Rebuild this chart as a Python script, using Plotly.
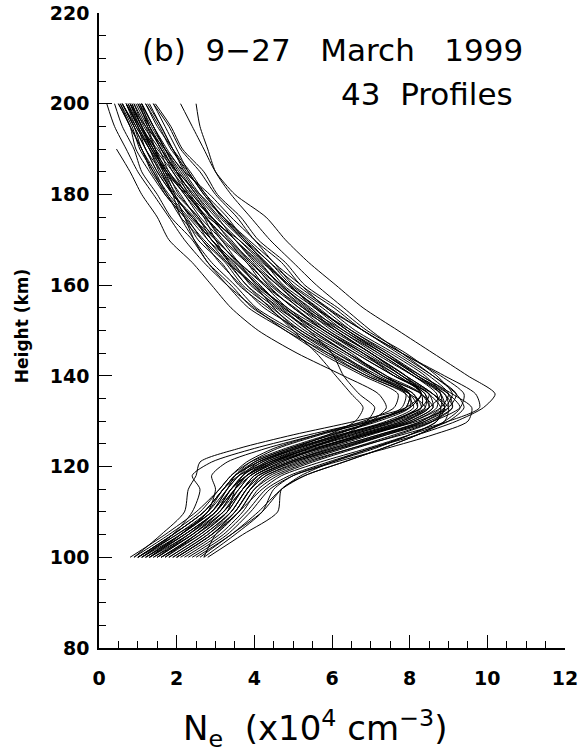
import plotly.graph_objects as go

# Heights (km) at which each electron-density profile is sampled
heights_km = [100, 105, 110, 115, 118, 121, 124, 127, 130, 133, 136, 140,
              145, 150, 155, 160, 165, 170, 175, 180, 185, 190, 195, 200]

# Electron density Ne (x10^4 cm^-3) for each of the 43 profiles
ne_profiles = [
    [1.6, 2.5, 3.2, 3.6, 3.9, 4.6, 5.6, 6.7, 7.9, 8.5, 8.4, 7.7, 6.8, 5.9, 5.0, 4.35, 3.85, 3.2, 2.75, 2.3, 1.8, 1.55, 1.15, 0.9],
    [1.2, 2.2, 3.0, 3.4, 3.7, 4.3, 5.3, 6.5, 7.6, 8.2, 8.0, 7.1, 6.2, 5.2, 4.45, 3.7, 3.25, 2.65, 2.25, 1.75, 1.45, 1.1, 0.9, 0.6],
    [2.0, 2.9, 3.5, 3.9, 4.3, 5.2, 6.3, 7.4, 8.4, 8.9, 8.8, 8.1, 7.2, 6.3, 5.35, 4.7, 4.05, 3.5, 2.9, 2.3, 1.75, 1.35, 1.0, 0.75],
    [1.0, 2.0, 2.8, 3.3, 3.6, 4.0, 4.9, 6.0, 7.2, 8.0, 8.0, 7.0, 6.0, 5.1, 4.5, 4.0, 3.3, 2.7, 2.2, 1.7, 1.3, 0.95, 0.8, 0.5],
    [1.8, 2.7, 3.4, 3.8, 4.2, 5.0, 6.1, 7.3, 8.5, 9.1, 9.0, 8.3, 7.4, 6.4, 5.65, 4.85, 4.3, 3.7, 3.2, 2.7, 2.3, 1.85, 1.55, 1.2],
    [1.4, 2.3, 3.1, 3.5, 3.8, 4.4, 5.5, 6.8, 8.0, 8.6, 8.3, 7.3, 6.5, 5.6, 4.75, 4.1, 3.5, 2.9, 2.55, 2.0, 1.65, 1.35, 1.05, 0.75],
    [2.3, 3.2, 3.8, 4.3, 4.9, 5.9, 7.0, 8.0, 8.7, 8.8, 8.5, 7.8, 7.0, 6.0, 5.25, 4.45, 3.95, 3.35, 2.9, 2.4, 2.0, 1.6, 1.3, 1.0],
    [1.1, 2.0, 2.9, 3.3, 3.5, 3.9, 4.6, 5.7, 7.0, 8.0, 8.3, 7.7, 6.7, 5.8, 4.85, 4.25, 3.6, 3.15, 2.6, 2.2, 1.75, 1.45, 1.1, 0.85],
    [1.7, 2.6, 3.3, 3.7, 4.0, 4.8, 5.8, 6.9, 8.1, 8.8, 9.0, 8.5, 7.6, 6.6, 5.85, 5.0, 4.5, 3.85, 3.2, 2.6, 2.0, 1.5, 1.05, 0.7],
    [0.9, 1.8, 2.6, 3.1, 3.4, 3.8, 4.5, 5.6, 6.8, 7.6, 7.7, 6.8, 5.7, 4.8, 3.85, 3.3, 2.8, 2.45, 2.2, 1.95, 1.7, 1.4, 1.1, 0.85],
    [2.5, 3.4, 4.1, 4.7, 5.3, 6.3, 7.3, 8.2, 8.9, 9.0, 8.6, 7.8, 6.9, 5.9, 5.15, 4.4, 3.8, 3.3, 2.75, 2.35, 1.9, 1.6, 1.25, 0.95],
    [1.5, 2.4, 3.2, 3.7, 4.0, 4.7, 5.7, 6.9, 8.2, 9.0, 9.2, 8.6, 7.7, 6.8, 5.85, 5.2, 4.5, 4.0, 3.4, 2.85, 2.2, 1.7, 1.2, 0.8],
    [1.3, 2.2, 3.0, 3.4, 3.8, 4.5, 5.6, 6.8, 7.9, 8.4, 8.0, 6.9, 5.9, 5.0, 4.05, 3.5, 2.9, 2.45, 2.1, 1.9, 1.65, 1.45, 1.25, 1.05],
    [1.9, 2.8, 3.5, 3.9, 4.2, 5.0, 6.2, 7.4, 8.6, 9.3, 9.4, 8.8, 7.8, 6.8, 6.05, 5.2, 4.7, 4.0, 3.55, 3.0, 2.6, 2.1, 1.8, 1.4],
    [1.6, 2.6, 3.3, 3.5, 3.7, 4.1, 5.0, 6.2, 7.5, 8.3, 8.5, 7.6, 6.6, 5.7, 4.75, 4.15, 3.55, 3.05, 2.5, 2.1, 1.7, 1.4, 1.05, 0.8],
    [1.2, 2.1, 2.8, 3.2, 3.6, 4.4, 5.4, 6.6, 7.8, 8.5, 8.3, 7.3, 6.3, 5.3, 4.55, 3.8, 3.35, 3.0, 2.7, 2.3, 2.0, 1.6, 1.3, 1.1],
    [2.1, 3.0, 3.6, 4.0, 4.5, 5.4, 6.5, 7.6, 8.6, 9.1, 8.9, 8.1, 7.1, 6.2, 5.25, 4.6, 4.0, 3.5, 2.9, 2.5, 2.05, 1.7, 1.35, 1.05],
    [1.0, 1.9, 2.7, 3.2, 3.5, 4.1, 5.1, 6.3, 7.5, 8.2, 8.1, 7.1, 6.1, 5.2, 4.25, 3.65, 3.1, 2.65, 2.1, 1.75, 1.35, 1.1, 0.8, 0.55],
    [1.8, 2.7, 3.4, 3.8, 4.1, 4.9, 6.0, 7.2, 8.4, 9.0, 8.9, 8.2, 7.3, 6.3, 5.55, 4.75, 4.25, 3.6, 2.8, 2.25, 1.7, 1.3, 0.95, 0.6],
    [1.4, 2.4, 3.1, 3.6, 3.9, 4.6, 5.7, 6.9, 8.0, 8.6, 8.5, 7.6, 6.8, 5.8, 5.05, 4.25, 3.8, 3.15, 2.75, 2.25, 1.9, 1.45, 1.2, 0.9],
    [1.7, 2.5, 3.2, 3.7, 4.0, 4.7, 5.6, 6.7, 7.8, 8.3, 8.1, 7.3, 6.4, 5.5, 4.6, 3.95, 3.35, 2.9, 2.35, 1.95, 1.55, 1.3, 0.95, 0.7],
    [2.2, 3.1, 3.7, 4.1, 4.6, 5.5, 6.6, 7.7, 8.6, 8.9, 8.6, 7.9, 7.0, 6.1, 5.15, 4.5, 3.9, 3.4, 2.85, 2.45, 1.95, 1.65, 1.3, 1.0],
    [1.3, 2.3, 3.0, 3.5, 3.9, 4.5, 5.4, 6.5, 7.7, 8.5, 8.8, 8.4, 7.5, 6.5, 5.75, 4.95, 4.4, 3.75, 3.3, 2.75, 2.35, 1.9, 1.6, 1.25],
    [2.6, 3.4, 4.2, 4.7, 5.2, 6.0, 7.0, 8.2, 9.2, 9.9, 10.2, 9.5, 8.6, 7.7, 6.8, 6.1, 5.4, 4.8, 4.3, 3.5, 3.0, 2.7, 2.4, 2.1],
    [2.7, 3.0, 3.6, 4.2, 4.7, 5.7, 6.9, 8.0, 9.0, 9.4, 9.2, 8.6, 7.8, 7.0, 6.3, 5.6, 5.0, 4.4, 3.9, 3.4, 3.0, 2.8, 2.6, 2.5],
    [2.8, 3.7, 4.6, 4.7, 5.3, 6.3, 7.3, 8.2, 8.9, 9.3, 9.0, 8.2, 7.3, 6.4, 5.6, 4.9, 4.3, 3.7, 3.1, 2.6, 2.2, 1.9, 1.6, 1.3],
    [2.7, 3.5, 4.2, 4.5, 5.0, 6.0, 7.1, 8.0, 8.7, 8.9, 8.6, 7.9, 7.0, 6.1, 5.4, 4.7, 4.1, 3.5, 2.9, 2.4, 2.0, 1.7, 1.4, 1.1],
    [0.9, 1.6, 2.2, 2.3, 2.5, 2.6, 3.6, 5.0, 6.6, 7.9, 8.3, 7.8, 6.8, 5.8, 5.0, 4.3, 3.6, 3.0, 2.4, 1.9, 1.5, 1.2, 0.9, 0.6],
    [1.1, 1.9, 2.4, 2.6, 2.4, 2.9, 4.0, 5.4, 6.9, 7.9, 8.0, 7.4, 6.4, 5.5, 4.8, 4.1, 3.5, 2.9, 2.4, 1.9, 1.5, 1.2, 0.9, 0.6],
    [1.3, 2.1, 2.8, 3.0, 2.9, 3.3, 4.3, 5.6, 7.0, 8.0, 8.3, 7.9, 7.0, 6.1, 5.3, 4.6, 3.9, 3.3, 2.7, 2.2, 1.8, 1.4, 1.1, 0.8],
    [1.0, 1.9, 2.7, 3.2, 3.5, 4.1, 5.0, 5.9, 6.6, 6.8, 6.5, 6.1, 5.6, 5.0, 4.4, 3.8, 3.3, 2.8, 2.3, 1.8, 1.4, 1.1, 0.8, 0.5],
    [1.5, 2.3, 3.0, 3.4, 3.8, 4.5, 5.4, 6.3, 6.9, 7.1, 6.7, 6.3, 6.0, 5.4, 4.7, 4.0, 3.4, 2.9, 2.4, 1.9, 1.6, 1.3, 1.0, 0.7],
    [2.0, 2.9, 3.6, 4.0, 4.4, 5.3, 6.5, 7.8, 9.0, 9.8, 9.7, 8.9, 7.8, 6.8, 5.9, 5.1, 4.4, 3.8, 3.2, 2.7, 2.3, 2.0, 1.7, 1.4],
    [2.4, 3.3, 3.9, 4.4, 5.0, 6.1, 7.4, 8.6, 9.5, 9.6, 9.1, 8.3, 7.3, 6.4, 5.6, 4.9, 4.2, 3.6, 3.0, 2.5, 2.1, 1.7, 1.4, 1.1],
    [1.2, 2.1, 2.9, 3.3, 3.6, 4.2, 5.1, 6.1, 7.0, 7.4, 7.2, 6.3, 5.1, 4.1, 3.4, 2.9, 2.4, 1.8, 1.5, 1.1, 0.8, 0.45, None, None],
    [1.0, 1.9, 2.7, 3.2, 3.5, 4.0, 4.9, 6.0, 7.1, 7.8, 7.9, 7.1, 5.9, 4.8, 4.0, 3.3, 2.7, 2.2, 1.8, 1.4, 1.0, 0.7, 0.4, 0.2],
    [1.5, 2.4, 3.1, 3.5, 3.8, 4.4, 5.3, 6.4, 7.6, 8.4, 8.4, 7.6, 6.6, 5.6, 4.85, 4.05, 3.6, 3.0, 2.55, 2.05, 1.75, 1.35, 1.1, 0.8],
    [1.9, 2.8, 3.4, 3.8, 4.1, 4.9, 5.9, 7.0, 8.1, 8.7, 8.7, 8.1, 7.2, 6.2, 5.45, 4.65, 4.15, 3.5, 3.05, 2.55, 2.15, 1.75, 1.4, 1.1],
    [1.1, 2.1, 2.9, 3.4, 3.7, 4.2, 5.1, 6.2, 7.4, 8.1, 7.9, 6.9, 5.8, 4.9, 3.95, 3.4, 2.8, 2.4, 1.85, 1.5, 1.1, 0.9, 0.6, 0.4],
    [1.6, 2.5, 3.3, 3.7, 4.1, 4.9, 6.0, 7.2, 8.3, 8.9, 9.1, 8.7, 7.9, 6.9, 6.15, 5.3, 4.8, 4.1, 3.65, 3.05, 2.7, 2.15, 1.85, 1.45],
    [1.3, 2.2, 3.0, 3.5, 3.8, 4.3, 5.2, 6.3, 7.5, 8.3, 8.3, 7.4, 6.4, 5.4, 4.65, 3.9, 3.45, 2.8, 2.45, 1.9, 1.6, 1.2, 1.0, 0.7],
    [2.0, 2.9, 3.5, 3.9, 4.3, 5.1, 6.2, 7.3, 8.3, 8.8, 8.8, 8.2, 7.4, 6.5, 5.55, 4.9, 4.25, 3.75, 3.15, 2.75, 2.25, 1.9, 1.5, 1.2],
    [0.8, 1.7, 2.5, 3.1, 3.4, 3.9, 4.8, 5.9, 7.1, 7.9, 8.0, 7.2, 6.1, 5.1, 4.35, 3.6, 3.15, 2.55, 2.2, 1.7, 1.4, 1.05, 0.85, 0.55],
]

title_line1 = "(b)\u00a0\u00a09\u221227\u00a0\u00a0\u00a0March\u00a0\u00a0\u00a01999"
title_line2 = "43\u00a0\u00a0Profiles"
x_title = "N<sub>e</sub>\u00a0 (x10<sup>4</sup> cm<sup>\u22123</sup>)"
y_title = "Height (km)"

fig = go.Figure()
for prof in ne_profiles:
    fig.add_trace(go.Scatter(
        x=prof, y=heights_km, mode="lines",
        line=dict(color="black", width=1, shape="spline", smoothing=0.7),
        showlegend=False, hoverinfo="skip",
    ))

tick_font = dict(family="DejaVu Sans", size=19, color="black", weight="bold")

fig.update_layout(
    width=582, height=755,
    margin=dict(l=99, r=17, t=13, b=107, autoexpand=False),
    paper_bgcolor="white", plot_bgcolor="white",
    showlegend=False,
    xaxis=dict(
        range=[0, 12], dtick=2, tick0=0, automargin=False,
        showline=True, linecolor="black", linewidth=1.5,
        ticks="inside", ticklen=13, tickwidth=1.2, tickcolor="black",
        minor=dict(dtick=0.5, ticks="inside", ticklen=7, tickwidth=1.2, tickcolor="black"),
        showgrid=False, zeroline=False, mirror=False,
        tickfont=tick_font, ticklabelstandoff=12,
    ),
    yaxis=dict(
        range=[80, 220], dtick=20, tick0=80, automargin=False,
        showline=True, linecolor="black", linewidth=1.5,
        ticks="inside", ticklen=13, tickwidth=1.2, tickcolor="black",
        minor=dict(dtick=5, ticks="inside", ticklen=7, tickwidth=1.2, tickcolor="black"),
        showgrid=False, zeroline=False, mirror=False,
        tickfont=tick_font, ticklabelstandoff=4,
    ),
    annotations=[
        dict(text=title_line1, xref="paper", yref="paper", x=0.914, y=0.942,
             xanchor="right", yanchor="middle", showarrow=False,
             font=dict(family="DejaVu Sans", size=31, color="black")),
        dict(text=title_line2, xref="paper", yref="paper", x=0.893, y=0.872,
             xanchor="right", yanchor="middle", showarrow=False,
             font=dict(family="DejaVu Sans", size=31, color="black")),
        dict(text=x_title, xref="paper", yref="paper", x=0.4635, y=-0.126,
             xanchor="center", yanchor="middle", showarrow=False,
             font=dict(family="DejaVu Sans", size=34, color="black")),
        dict(text=y_title, xref="paper", yref="paper", x=-0.165, y=0.507,
             xanchor="center", yanchor="middle", showarrow=False, textangle=-90,
             font=dict(family="DejaVu Sans", size=17, color="black", weight="bold")),
    ],
)

fig.write_html("out.html")
